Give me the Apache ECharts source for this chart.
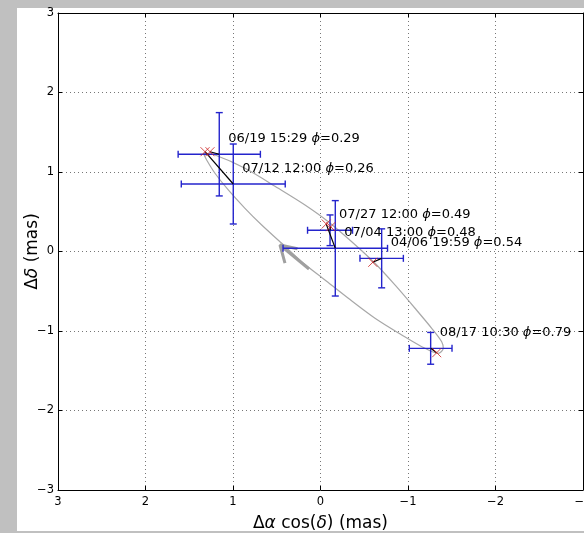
<!DOCTYPE html>
<html><head><meta charset="utf-8">
<script src="https://cdn.jsdelivr.net/npm/echarts@6/dist/echarts.min.js"></script>
<style>html,body{margin:0;padding:0;background:#c0c0c0}</style>
</head><body>
<div id="c" style="width:584px;height:533px"></div>
<script>
// ---- data (mas) ----
const epochs = ['06/19 15:29', '07/12 12:00', '07/27 12:00', '07/04 13:00', '04/06 19:59', '08/17 10:30'];
const phases = ['0.29', '0.26', '0.49', '0.48', '0.54', '0.79'];
const obsX = [1.157, 0.997, -0.109, -0.169, -0.699, -1.259];
const obsY = [1.223, 0.849, 0.267, 0.040, -0.086, -1.218];
const errX = [0.470, 0.594, 0.257, 0.597, 0.248, 0.244];
const errY = [0.524, 0.503, 0.193, 0.600, 0.371, 0.200];
const modelX = [1.263, 1.320, -0.117, -0.065, -0.597, -1.328];
const modelY = [1.255, 1.255, 0.312, 0.346, -0.136, -1.273];
const orbitX = [1.339, 1.206, 0.863, 0.482, 0.177, -0.089, -0.357, -0.623, -0.851, -1.080, -1.271, -1.385, -1.403, -1.346, -1.157, -0.928, -0.623, -0.318, -0.051, 0.215, 0.443, 0.672, 0.863, 1.054, 1.206, 1.301, 1.339];
const orbitY = [1.235, 1.214, 1.047, 0.795, 0.585, 0.375, 0.123, -0.148, -0.421, -0.714, -0.966, -1.135, -1.218, -1.281, -1.197, -1.050, -0.840, -0.589, -0.358, -0.128, 0.103, 0.333, 0.543, 0.774, 0.984, 1.151, 1.235];
const arrowShaftX = [0.463, 0.131];
const arrowShaftY = [0.082, -0.220];
const arrowHeadX = [0.406, 0.463, 0.263];
const arrowHeadY = [-0.145, 0.082, 0.034];

const FONT = '"DejaVu Sans", sans-serif';
const chart = echarts.init(document.getElementById('c'), null, {renderer: 'canvas'});
const fmt = v => String(v).replace('-', '\u2212');
const zip = (a, b) => a.map((v, i) => [v, b[i]]);

const axisCommon = {
  type: 'value', min: -3, max: 3, interval: 1,
  axisLine: {show: true, onZero: false, lineStyle: {color: '#000', width: 1}},
  axisTick: {show: true, inside: true, length: 4, lineStyle: {color: '#000'}},
};
const nameRich = {
  n: {fontFamily: FONT, fontSize: 17, color: '#000'},
  i: {fontFamily: FONT, fontStyle: 'italic', fontSize: 17, color: '#000'}
};

const option = {
  animation: false,
  backgroundColor: '#c0c0c0',
  graphic: [{type: 'rect', shape: {x: 17, y: 8, width: 567, height: 523}, style: {fill: '#fff'}, z: -10}],
  grid: {left: 58, right: 1, top: 13, bottom: 43, containLabel: false, outerBoundsMode: 'none'},
  xAxis: [
    Object.assign({}, axisCommon, {
      position: 'bottom', inverse: true,
      axisLabel: {formatter: fmt, color: '#000', fontFamily: FONT, fontSize: 11.5, margin: 6},
      splitLine: {show: true, lineStyle: {color: '#777', type: [1, 3], width: 1}},
      name: '{n|\u0394}{i|\u03b1}{n| cos(}{i|\u03b4}{n|) (mas)}', nameLocation: 'middle', nameGap: 25,
      nameMoveOverlap: false,
      nameTextStyle: {rich: nameRich}
    }),
    Object.assign({}, axisCommon, {position: 'top', inverse: true, axisLabel: {show: false}, splitLine: {show: false}})
  ],
  yAxis: [
    Object.assign({}, axisCommon, {
      position: 'left',
      axisLabel: {formatter: fmt, color: '#000', fontFamily: FONT, fontSize: 11.5, margin: 4},
      splitLine: {show: true, lineStyle: {color: '#777', type: [1, 3], width: 1}},
      name: '{n|\u0394}{i|\u03b4}{n| (mas)}', nameLocation: 'middle', nameGap: 17, nameRotate: 90,
      nameMoveOverlap: false,
      nameTextStyle: {rich: nameRich}
    }),
    Object.assign({}, axisCommon, {position: 'right', axisLabel: {show: false}, splitLine: {show: false}})
  ],
  series: [
    {
      type: 'line', data: zip(orbitX, orbitY), showSymbol: false, symbol: 'none', smooth: 0.3,
      lineStyle: {color: '#a8a8a8', width: 1.2}, z: 2, silent: true
    },
    {
      type: 'line', data: zip(arrowShaftX, arrowShaftY), symbol: 'none',
      lineStyle: {color: '#a0a0a0', width: 3}, z: 2, silent: true
    },
    {
      type: 'line', data: zip(arrowHeadX, arrowHeadY), symbol: 'none',
      lineStyle: {color: '#a0a0a0', width: 3}, z: 2, silent: true
    },
    {
      type: 'custom', z: 3, silent: true,
      data: obsX.map((x, i) => [x, obsY[i], errX[i], errY[i]]),
      encode: {x: 0, y: 1},
      renderItem: (params, api) => {
        const x = api.value(0), y = api.value(1), ex = api.value(2), ey = api.value(3);
        const l = api.coord([x - ex, y]), r = api.coord([x + ex, y]);
        const t = api.coord([x, y + ey]), b = api.coord([x, y - ey]);
        const c = 3.5;
        const st = {stroke: '#2424cc', lineWidth: 1.4};
        const ln = (x1, y1, x2, y2) => ({type: 'line', shape: {x1, y1, x2, y2}, style: st});
        return {type: 'group', children: [
          ln(l[0], l[1], r[0], r[1]),
          ln(t[0], t[1], b[0], b[1]),
          ln(l[0], l[1] - c, l[0], l[1] + c),
          ln(r[0], r[1] - c, r[0], r[1] + c),
          ln(t[0] - c, t[1], t[0] + c, t[1]),
          ln(b[0] - c, b[1], b[0] + c, b[1])
        ]};
      }
    },
    {
      type: 'custom', z: 4, silent: true,
      data: obsX.map((x, i) => [x, obsY[i], modelX[i], modelY[i]]),
      encode: {x: 0, y: 1},
      renderItem: (params, api) => {
        const p = api.coord([api.value(0), api.value(1)]);
        const q = api.coord([api.value(2), api.value(3)]);
        return {type: 'line', shape: {x1: p[0], y1: p[1], x2: q[0], y2: q[1]}, style: {stroke: '#000', lineWidth: 1.2}};
      }
    },
    {
      type: 'scatter', z: 5, silent: true,
      data: zip(modelX, modelY),
      symbol: 'path://M0,0L10,10M10,0L0,10', symbolSize: 9,
      itemStyle: {color: 'none', borderColor: '#cc2020', borderWidth: 1}
    },
    {
      type: 'custom', z: 6, silent: true,
      data: obsX.map((x, i) => [x, obsY[i], i]),
      encode: {x: 0, y: 1},
      renderItem: (params, api) => {
        const i = api.value(2);
        const p = api.coord([api.value(0), api.value(1)]);
        return {type: 'text', x: p[0] + 9, y: p[1] - 15.5, style: {
          text: '{t|' + epochs[i] + ' }{i|\u03d5}{t|=' + phases[i] + '}',
          verticalAlign: 'middle', align: 'left',
          rich: {
            t: {fontFamily: FONT, fontSize: 13, fill: '#000', color: '#000'},
            i: {fontFamily: FONT, fontStyle: 'italic', fontSize: 13, fill: '#000', color: '#000'}
          }
        }};
      }
    }
  ]
};
chart.setOption(option);
</script>
</body></html>
